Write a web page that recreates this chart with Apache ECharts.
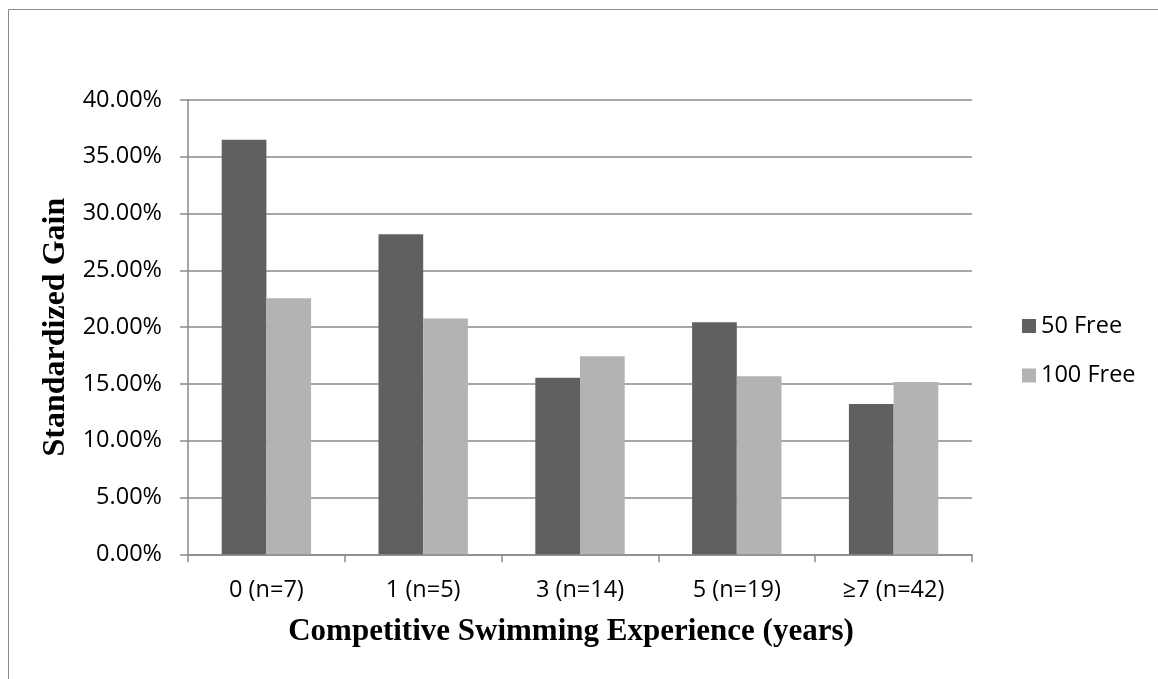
<!DOCTYPE html>
<html>
<head>
<meta charset="utf-8">
<script src="https://cdn.jsdelivr.net/npm/echarts@6/dist/echarts.min.js"></script>
<style>
  html, body { margin: 0; padding: 0; background: #fff; }
  #chart { width: 1158px; height: 679px; }
</style>
</head>
<body>
<div id="chart"></div>
<script>
// Experience groups (years of competitive swimming, with sample size)
const categories = ['0 (n=7)', '1 (n=5)', '3 (n=14)', '5 (n=19)', '\u22657 (n=42)'];
// Standardized gain per group, as fractions
const free50 = [0.365, 0.2817, 0.1555, 0.2043, 0.1323];
const free100 = [0.2254, 0.2077, 0.1743, 0.1567, 0.1517];
const seriesNames = ['50 Free', '100 Free'];

const sansFont = '"Open Sans", "Liberation Sans", sans-serif';
const serifFont = '"Liberation Serif", "Times New Roman", serif';
const lineGray = '#8a8a8a';
const labelSize = 23.5;

const chart = echarts.init(document.getElementById('chart'), null, { renderer: 'canvas' });

chart.setOption({
  backgroundColor: '#ffffff',
  animation: false,
  graphic: [{
    type: 'rect',
    silent: true,
    shape: { x: 8.5, y: 9.5, width: 1300, height: 800 },
    style: { fill: 'none', stroke: '#8a8a8a', lineWidth: 1 }
  }],
  legend: {
    orient: 'vertical',
    left: 1017,
    top: 309,
    itemWidth: 14,
    itemHeight: 14,
    itemGap: 25.5,
    icon: 'rect',
    data: seriesNames,
    textStyle: { fontFamily: sansFont, fontSize: labelSize, color: '#000', lineHeight: 23.5 }
  },
  grid: { left: 188, right: 186, top: 100, bottom: 124.7, containLabel: false },
  xAxis: {
    type: 'category',
    data: categories,
    name: 'Competitive Swimming Experience (years)',
    nameLocation: 'middle',
    nameGap: 62,
    nameTextStyle: {
      fontFamily: serifFont, fontWeight: 'bold', fontSize: 31, color: '#000',
      padding: [0, 18, 0, 0]
    },
    axisLine: { show: true, lineStyle: { color: lineGray, width: 1.5 } },
    axisTick: { show: true, length: 8, interval: 0, lineStyle: { color: lineGray, width: 1.5 } },
    axisLabel: { fontFamily: sansFont, fontSize: labelSize, color: '#000', margin: 24, interval: 0 },
    splitLine: { show: false }
  },
  yAxis: {
    type: 'value',
    min: 0,
    max: 0.4,
    interval: 0.05,
    name: 'Standardized Gain',
    nameLocation: 'middle',
    nameGap: 110,
    nameRotate: 90,
    nameTextStyle: { fontFamily: serifFont, fontWeight: 'bold', fontSize: 32, color: '#000' },
    axisLine: { show: true, lineStyle: { color: lineGray, width: 1.5 } },
    axisTick: { show: true, length: 8, lineStyle: { color: lineGray, width: 1.5 } },
    axisLabel: {
      fontFamily: sansFont, fontSize: labelSize, color: '#000', margin: 26,
      formatter: v => (v * 100).toFixed(2) + '%'
    },
    splitLine: { show: true, lineStyle: { color: lineGray, width: 1.5 } }
  },
  series: [
    {
      name: seriesNames[0],
      type: 'bar',
      data: free50,
      barGap: '0%',
      barCategoryGap: '43%',
      itemStyle: { color: '#606060' }
    },
    {
      name: seriesNames[1],
      type: 'bar',
      data: free100,
      barGap: '0%',
      barCategoryGap: '43%',
      itemStyle: { color: '#b3b3b3' }
    }
  ]
});
</script>
</body>
</html>
